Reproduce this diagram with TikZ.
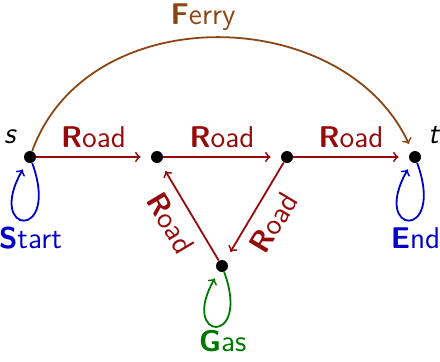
\documentclass[tikz,border=0pt]{standalone}
\usepackage{amsmath}
\usetikzlibrary{positioning,arrows}

\definecolor{roadred}{RGB}{150,10,10}
\definecolor{ferrybrown}{RGB}{140,70,20}
\definecolor{loopblue}{RGB}{0,0,200}
\definecolor{gasgreen}{RGB}{0,120,0}

\newcommand{\kw}[2]{\textbf{#1}#2}

\begin{document}
\begin{tikzpicture}[
    x=0.5pt, y=0.5pt,
    font=\sffamily\fontsize{15}{18}\selectfont,
    place/.style={circle, fill=black, inner sep=0pt, minimum size=6pt},
    road/.style={->, line width=0.9pt, draw=roadred, text=roadred, shorten >=5pt},
    ferry/.style={->, line width=0.9pt, draw=ferrybrown, text=ferrybrown, shorten >=4pt},
    selfloop/.style={->, line width=0.9pt, distance=42pt, shorten >=4pt}
]
\useasboundingbox (0,0) rectangle (440,361);

\node[place, label={[label distance=1pt]above left:\textit{s}}] (s) at (30,204) {};
\node[place] (a) at (157,204) {};
\node[place] (b) at (287,204) {};
\node[place, label={[label distance=1pt]above right:\textit{t}}] (t) at (415,204) {};
\node[place] (gas) at (222,95) {};

\draw[road] (s) -- node[above=1pt] {\kw{R}{oad}} (a);
\draw[road] (a) -- node[above=1pt] {\kw{R}{oad}} (b);
\draw[road] (b) -- node[above=1pt] {\kw{R}{oad}} (t);
\draw[road] (b) -- node[below=2pt, sloped] {\kw{R}{oad}} (gas);
\draw[road] (gas) -- node[below=2pt, sloped] {\kw{R}{oad}} (a);

\draw[ferry] (s) to[out=70, in=115, looseness=1.1] node[above, pos=0.47] {\kw{F}{erry}} (t);

\draw[selfloop, loopblue] (s) to[out=-70, in=-120] node[below, xshift=3pt, text=loopblue] {\kw{S}{tart}} (s);
\draw[selfloop, loopblue] (t) to[out=-70, in=-120] node[below, xshift=3pt, text=loopblue] {\kw{E}{nd}} (t);
\draw[selfloop, gasgreen, distance=40pt] (gas) to[out=-70, in=-120] node[below, inner sep=1.5pt, xshift=3pt, text=gasgreen] {\kw{G}{as}} (gas);

\end{tikzpicture}
\end{document}
